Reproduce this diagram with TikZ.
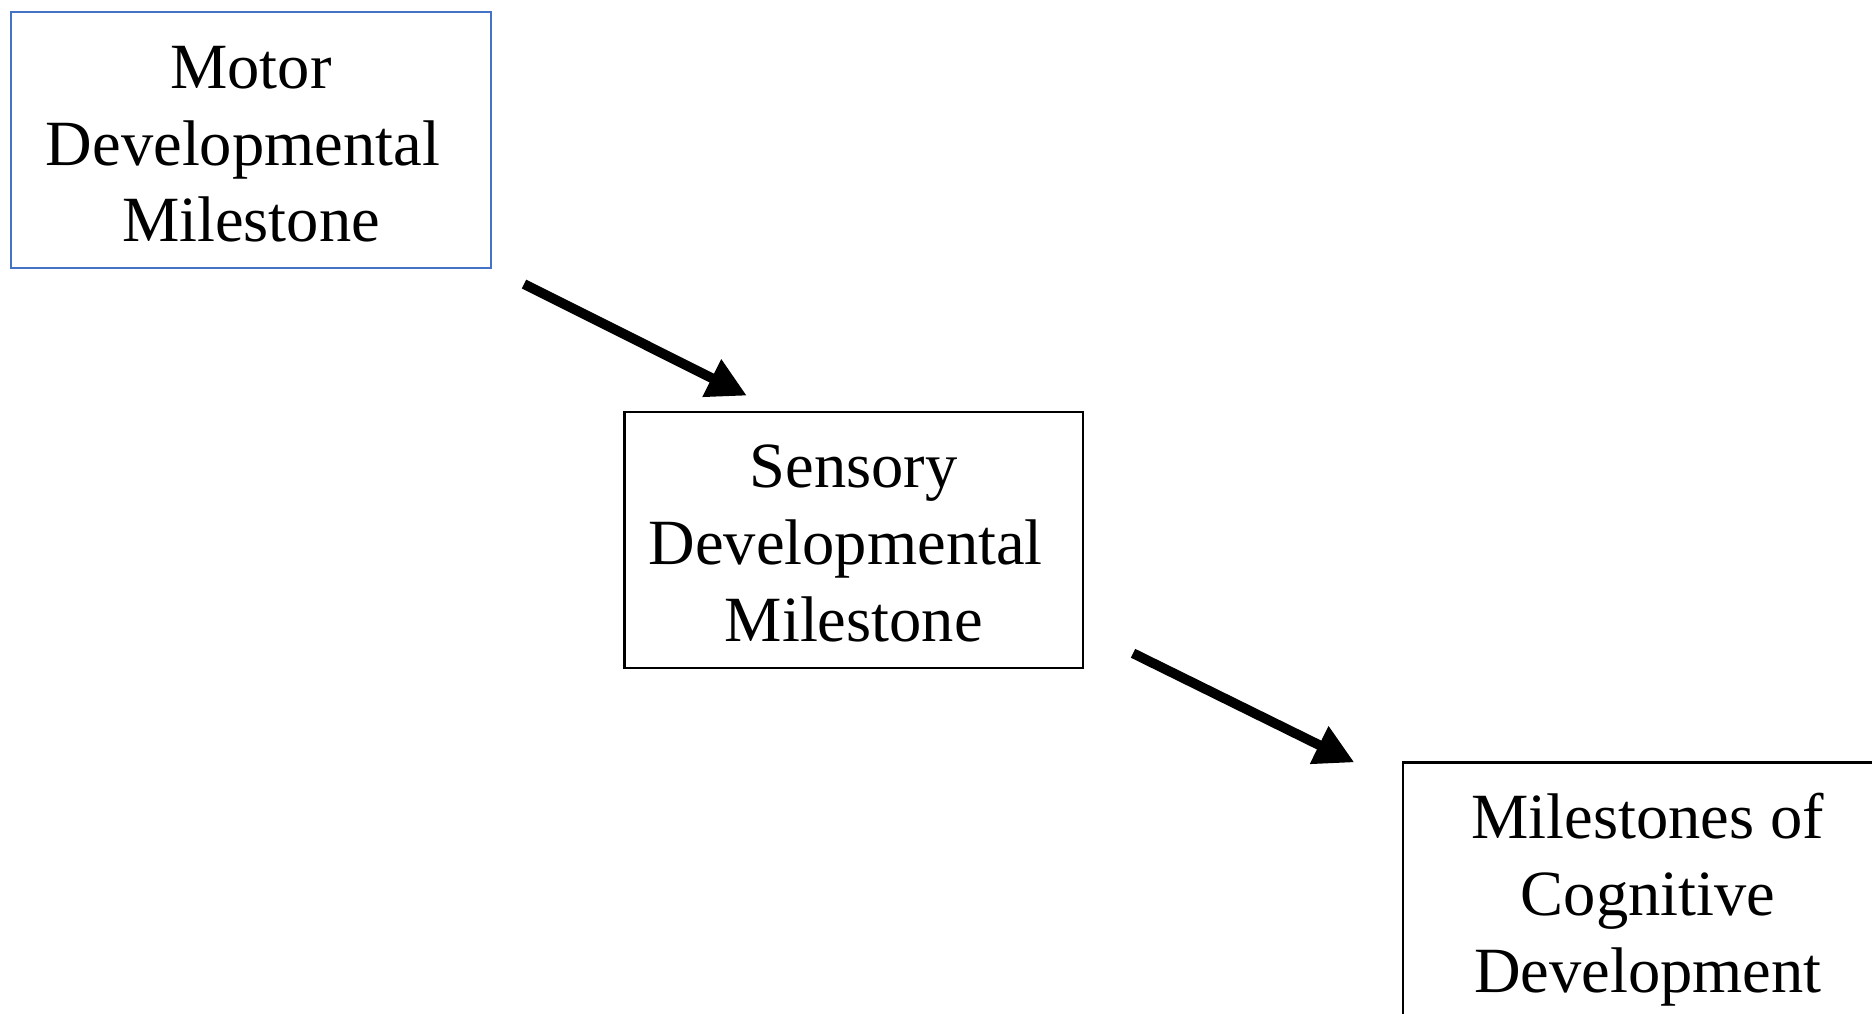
\documentclass[tikz,border=0pt]{standalone}
\usepackage{fontspec}
\setmainfont{Liberation Serif}
\usetikzlibrary{arrows.meta}
\definecolor{boxblue}{RGB}{68,114,196}

\begin{document}
\begin{tikzpicture}[
            stage/.style={draw,line width=0.6pt,inner sep=0pt,align=center,
                minimum height=2.56cm,text height=2.04cm,text depth=0pt,
                font=\fontsize{18.35pt}{21.9pt}\selectfont},
            flow/.style={line width=2.8pt,-{Triangle[length=11.2pt,width=11.2pt]}}
        ]
            \useasboundingbox (0,0) rectangle (18.72,-10.14);
            \clip (0,0) rectangle (18.72,-10.14);

            \node [stage,draw=boxblue,minimum width=4.8cm] (motor) at (2.51,-1.40)
                {Motor\\Developmental\rule{.25em}{0pt}\\Milestone};
            \node [stage,minimum width=4.585cm] (sensory) at (8.5375,-5.3975)
                {Sensory\\Developmental\rule{.25em}{0pt}\\Milestone};
            \node [stage,minimum width=4.9cm] (cognitive) at (16.48,-8.905)
                {Milestones of\\Cognitive\\Development};

            \draw [flow] ([shift={(0.32,-0.15)}]motor.south east)
                -- ([shift={(1.235,0.15)}]sensory.north west);
            \draw [flow] ([shift={(0.49,0.155)}]sensory.south east)
                -- ([shift={(-0.475,-0.01)}]cognitive.north west);
        \end{tikzpicture}
\end{document}
